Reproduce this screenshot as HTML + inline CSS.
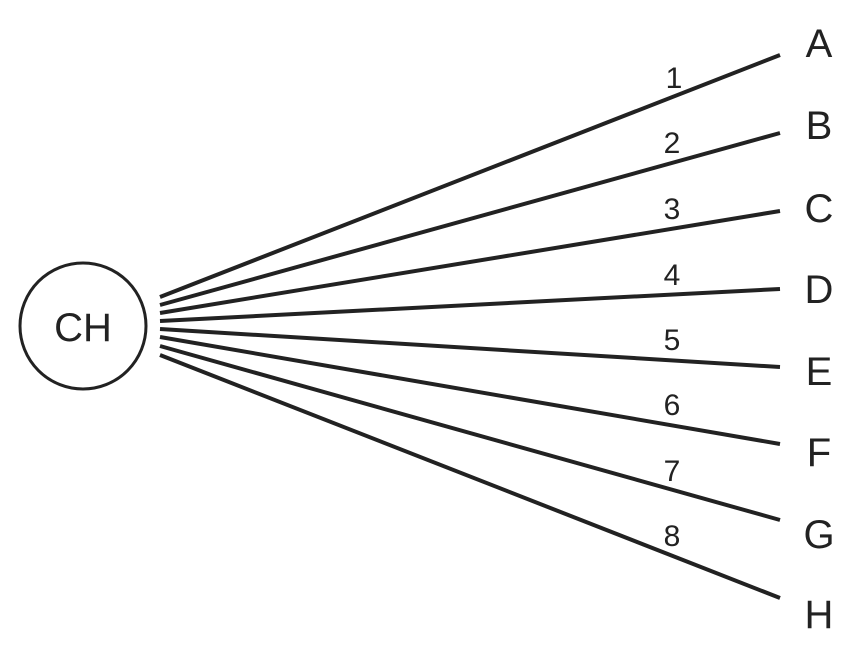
<!DOCTYPE html>
<html><head><style>html,body{margin:0;padding:0;background:#fff;}</style></head>
<body>
<svg width="848" height="652" viewBox="0 0 848 652" xmlns="http://www.w3.org/2000/svg" font-family="Liberation Sans, sans-serif" fill="#222">
<circle cx="83" cy="326" r="63" fill="none" stroke="#222" stroke-width="3"/>
<text x="83" y="341" font-size="40" text-anchor="middle">CH</text>
<g stroke="#222" stroke-width="4" stroke-linecap="butt">
<line x1="160" y1="297" x2="780" y2="55"/>
<line x1="160" y1="305" x2="780" y2="133"/>
<line x1="160" y1="313" x2="780" y2="211"/>
<line x1="160" y1="321" x2="780" y2="289"/>
<line x1="160" y1="329" x2="780" y2="367"/>
<line x1="160" y1="337" x2="780" y2="444"/>
<line x1="160" y1="346" x2="780" y2="520"/>
<line x1="160" y1="355" x2="780" y2="598"/>
</g>
<g font-size="30" text-anchor="middle">
<text x="674" y="88">1</text>
<text x="672" y="153">2</text>
<text x="672" y="219">3</text>
<text x="672" y="285">4</text>
<text x="672" y="350">5</text>
<text x="672" y="415">6</text>
<text x="672" y="481">7</text>
<text x="672" y="546">8</text>
</g>
<g font-size="40" text-anchor="middle">
<text x="819" y="57">A</text>
<text x="819" y="139">B</text>
<text x="819" y="222">C</text>
<text x="819" y="303">D</text>
<text x="819" y="385">E</text>
<text x="819" y="466">F</text>
<text x="819" y="548">G</text>
<text x="819" y="628">H</text>
</g>
</svg>
</body></html>
